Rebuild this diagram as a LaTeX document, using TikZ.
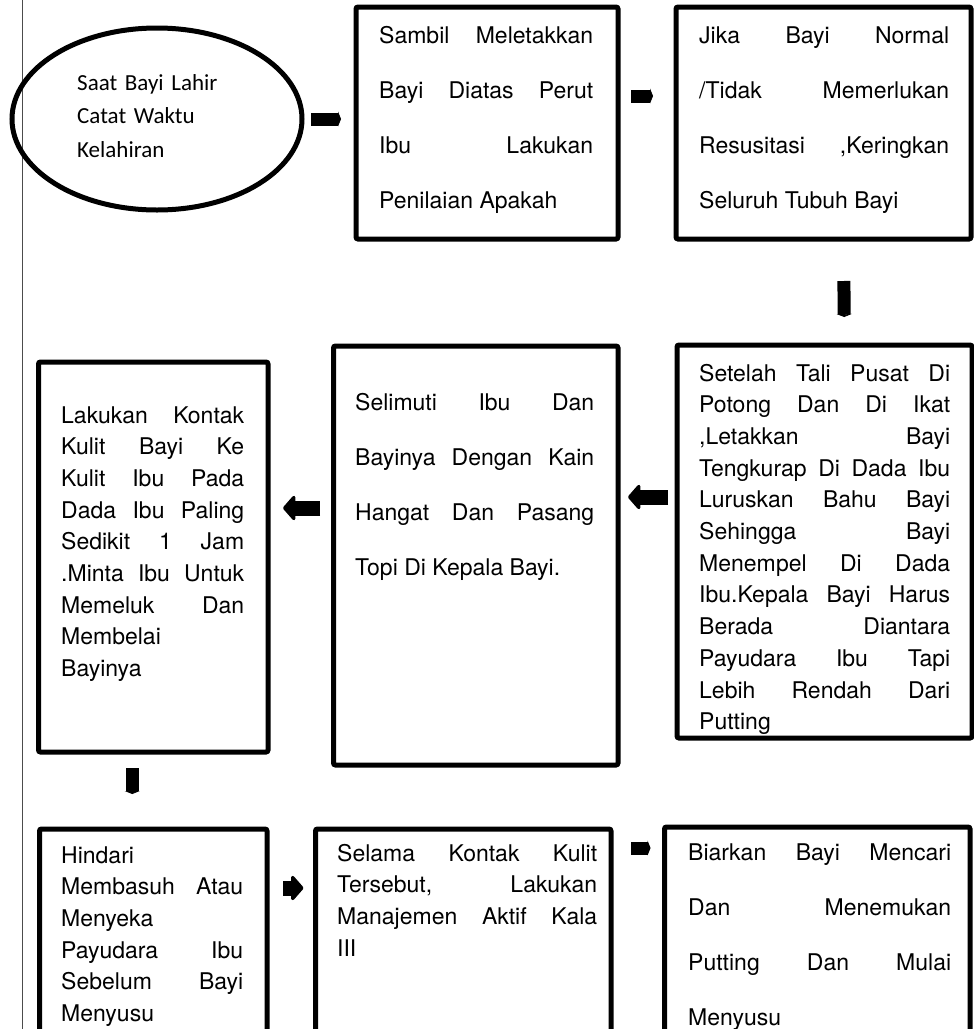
\documentclass[tikz,border=0pt]{standalone}
\usepackage{fontspec}
\setmainfont{TeX Gyre Heros}
\newfontfamily\boxfont{TeX Gyre Heros}
\newfontfamily\ovalfont{Carlito}
\usetikzlibrary{shapes.geometric,arrows.meta}

\begin{document}
\begin{tikzpicture}[x=1pt,y=-1pt,
  box/.style={draw, line width=5pt, rounded corners=2pt, anchor=north west,
    outer sep=0pt, inner sep=0pt},
  txt/.style={anchor=base west, inner sep=0pt, align=justify,
    font=\boxfont\fontsize{23}{31.7}\selectfont},
  widetxt/.style={txt, font=\boxfont\fontsize{23}{55}\selectfont},
  flow/.style={line width=13pt, -{Triangle[length=3pt,width=15pt]}},
  bigflow/.style={line width=15pt, -{Triangle[length=13pt,width=29pt,round]}}]
\useasboundingbox (0,0) rectangle (974,1029);
\clip (0,0) rectangle (974,1029);

% margin rule on the left
\draw [black!70, line width=1.4pt] (22.5,0) -- (22.5,1029);

% first row
\node [ellipse, draw, line width=5pt, outer sep=0pt, inner sep=0pt,
  minimum width=290pt, minimum height=182pt] (birth) at (157,119) {};
\node [anchor=base west, inner sep=0pt, text width=150pt, align=left,
  font=\ovalfont\fontsize{23}{33.5}\selectfont] (tbirth) at (77,90)
  {Saat Bayi Lahir\\Catat Waktu\\Kelahiran};

\node [box, minimum width=262pt, minimum height=232pt] (place) at (356,7) {};
\node [widetxt, text width=214pt] (tplace) at (379,43)
  {\parfillskip=0pt Sambil Meletakkan\linebreak Bayi Diatas Perut\linebreak
   Ibu Lakukan\linebreak Penilaian Apakah};

\node [box, minimum width=295pt, minimum height=232pt] (dry) at (676,7) {};
\node [widetxt, text width=250pt] (tdry) at (699,43)
  {\parfillskip=0pt Jika Bayi Normal\linebreak /Tidak Memerlukan\linebreak
   Resusitasi ,Keringkan\linebreak Seluruh Tubuh Bayi};

% second row
\node [box, minimum width=295pt, minimum height=393pt] (cord) at (677,345) {};
\node [txt, text width=251pt] (tcord) at (699,381)
  {Setelah Tali Pusat Di\linebreak Potong Dan Di Ikat\linebreak
   ,Letakkan Bayi\linebreak Tengkurap Di Dada Ibu\linebreak
   Luruskan Bahu Bayi\linebreak Sehingga Bayi\linebreak
   Menempel Di Dada\linebreak Ibu.Kepala Bayi Harus\linebreak
   Berada Diantara\linebreak Payudara Ibu Tapi\linebreak
   Lebih Rendah Dari\linebreak Putting};

\node [box, minimum width=284.5pt, minimum height=419pt] (cover) at (333.5,346) {};
\node [widetxt, text width=239pt] (tcover) at (355,410)
  {Selimuti Ibu Dan\linebreak Bayinya Dengan Kain\linebreak
   Hangat Dan Pasang\linebreak Topi Di Kepala Bayi.};

\node [box, minimum width=229.5pt, minimum height=390pt] (skin) at (38.5,362) {};
\node [txt, text width=183pt] (tskin) at (61,423)
  {Lakukan Kontak\linebreak Kulit Bayi Ke\linebreak Kulit Ibu Pada\linebreak
   Dada Ibu Paling\linebreak Sedikit 1 Jam\linebreak .Minta Ibu Untuk\linebreak
   Memeluk Dan\linebreak Membelai\linebreak Bayinya};

% third row
\node [box, minimum width=227.5pt, minimum height=216pt] (wash) at (39.5,829) {};
\node [txt, text width=182pt] (twash) at (61,863)
  {Hindari\linebreak Membasuh Atau\linebreak Menyeka\linebreak
   Payudara Ibu\linebreak Sebelum Bayi\linebreak Menyusu};

\node [box, minimum width=295.5pt, minimum height=216pt] (manage) at (315.5,829) {};
\node [txt, text width=260pt] (tmanage) at (337,861)
  {Selama Kontak Kulit\linebreak Tersebut, Lakukan\linebreak
   Manajemen Aktif Kala\linebreak III};

\node [box, minimum width=305.5pt, minimum height=218pt] (suck) at (664.5,827) {};
\node [widetxt, text width=263pt] (tsuck) at (688,860)
  {Biarkan Bayi Mencari\linebreak Dan Menemukan\linebreak
   Putting Dan Mulai\linebreak Menyusu};

% arrows between the steps
\draw [flow, shorten <=9pt, shorten >=15pt] (birth.east) -- (birth.east -| place.west);
\draw [flow, shorten <=13pt, shorten >=23pt] ([yshift=27pt]place.east) -- ([yshift=27pt]dry.west);
\draw [flow, shorten <=42pt, shorten >=28pt] ([xshift=20pt]dry.south) -- ([xshift=20pt]cord.north);
\draw [bigflow, shorten <=9pt, shorten >=10pt] ([yshift=44.5pt]cord.west) -- ([yshift=58.5pt]cover.east);
\draw [bigflow, shorten <=13.5pt, shorten >=15pt] ([yshift=47.5pt]cover.west) -- ([yshift=49pt]skin.east);
\draw [flow, shorten <=16pt, shorten >=35pt] ([xshift=-21pt]skin.south) -- ([xshift=-21pt]wash.north);
\draw [bigflow, shorten <=16pt, shorten >=12pt] ([yshift=49pt]wash.east) -- ([yshift=49pt]manage.west);
\draw [flow, shorten <=20pt, shorten >=14pt] ([yshift=89pt]manage.east) -- ([yshift=88pt]suck.west);
\end{tikzpicture}
\end{document}
